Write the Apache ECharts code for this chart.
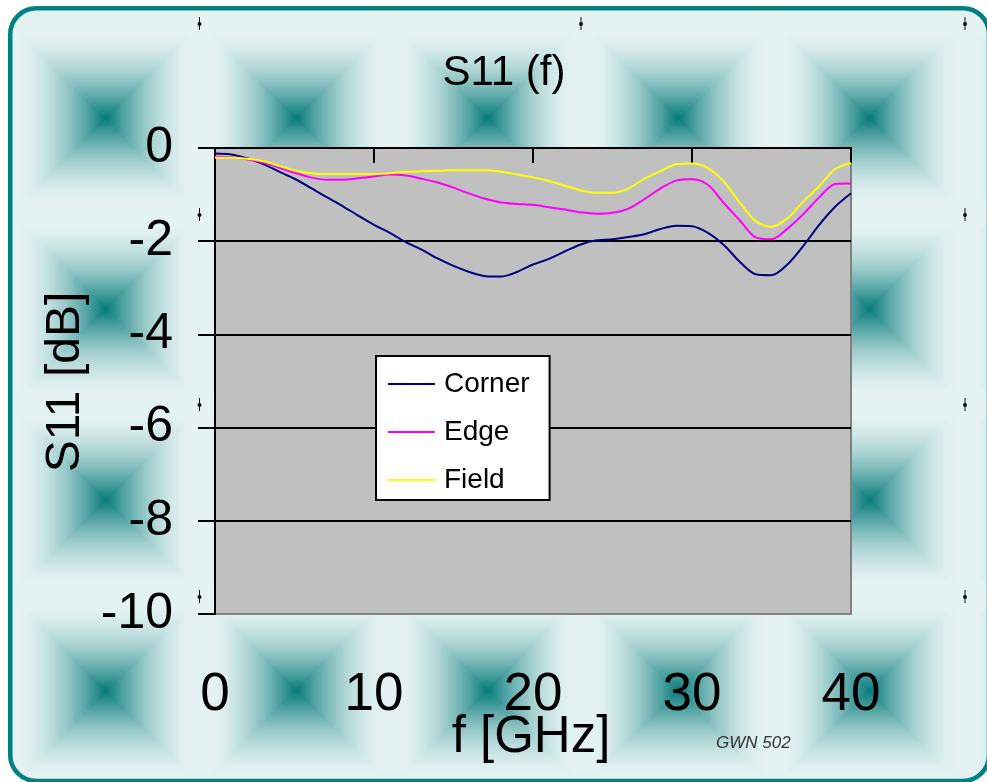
<!DOCTYPE html>
<html><head><meta charset="utf-8">
<script src="https://cdn.jsdelivr.net/npm/echarts@6/dist/echarts.min.js"></script>
<style>html,body{margin:0;padding:0;background:#fff}#c{width:987px;height:782px}</style>
</head><body><div id="c"></div>
<script>
// ---- data ----
const freqGHz = [0,1,2,3,4,5,6,7,8,9,10,11,12,13,14,15,16,17,18,19,20,21,22,23,24,25,26,27,28,29,30,31,32,33,34,35,36,37,38,39,40];
const corner = [-0.12,-0.14,-0.22,-0.34,-0.50,-0.66,-0.85,-1.05,-1.24,-1.45,-1.65,-1.82,-2.02,-2.18,-2.37,-2.53,-2.66,-2.75,-2.76,-2.66,-2.50,-2.38,-2.22,-2.07,-1.98,-1.96,-1.91,-1.85,-1.74,-1.67,-1.68,-1.82,-2.08,-2.44,-2.71,-2.73,-2.50,-2.10,-1.65,-1.26,-0.97];
const edge = [-0.19,-0.20,-0.24,-0.31,-0.42,-0.53,-0.63,-0.68,-0.68,-0.65,-0.61,-0.57,-0.59,-0.66,-0.74,-0.85,-0.98,-1.09,-1.17,-1.20,-1.22,-1.27,-1.32,-1.38,-1.41,-1.39,-1.30,-1.10,-0.87,-0.70,-0.67,-0.79,-1.18,-1.55,-1.92,-1.96,-1.73,-1.42,-1.06,-0.77,-0.76];
const field = [-0.21,-0.21,-0.23,-0.28,-0.38,-0.48,-0.54,-0.56,-0.56,-0.56,-0.56,-0.54,-0.51,-0.50,-0.49,-0.48,-0.48,-0.48,-0.51,-0.57,-0.63,-0.71,-0.81,-0.91,-0.96,-0.96,-0.87,-0.66,-0.50,-0.35,-0.33,-0.43,-0.72,-1.17,-1.57,-1.69,-1.51,-1.15,-0.82,-0.45,-0.32];
const seriesNames = ['Corner','Edge','Field'];
const xMin = 0, xMax = 40, xStep = 10;
const yMin = -10, yMax = 0, yStep = 2;
const titleText = 'S11 (f)';
const xTitle = 'f [GHz]';
const yTitle = 'S11 [dB]';
const footText = 'GWN 502';

// ---- decorative background (tiled rectangular gradient + frame) ----
function makeBackground(W, H) {
  const cv = document.createElement('canvas');
  cv.width = W; cv.height = H;
  const ctx = cv.getContext('2d');
  const img = ctx.createImageData(W, H);
  const T = 191, cx0 = 105.5, cy0 = 118, half = T / 2;
  const dark = [6, 122, 122], light = [228, 242, 242];
  for (let y = 0; y < H; y++) {
    let dy = ((y + 0.5 - cy0) % T + T) % T; if (dy > half) dy -= T;
    for (let x = 0; x < W; x++) {
      let dx = ((x + 0.5 - cx0) % T + T) % T; if (dx > half) dx -= T;
      const d = Math.max(Math.abs(dx), Math.abs(dy)) / half;
      const u = Math.max(0, 1 - d / 0.92);
      const f = Math.pow(u, 1.75);
      const i = (y * W + x) * 4;
      img.data[i] = light[0] + (dark[0] - light[0]) * f;
      img.data[i + 1] = light[1] + (dark[1] - light[1]) * f;
      img.data[i + 2] = light[2] + (dark[2] - light[2]) * f;
      img.data[i + 3] = 255;
    }
  }
  ctx.putImageData(img, 0, 0);
  function rr(x0, y0, x1, y1, r) {
    ctx.moveTo(x0 + r, y0); ctx.lineTo(x1 - r, y0); ctx.arcTo(x1, y0, x1, y0 + r, r);
    ctx.lineTo(x1, y1 - r); ctx.arcTo(x1, y1, x1 - r, y1, r);
    ctx.lineTo(x0 + r, y1); ctx.arcTo(x0, y1, x0, y1 - r, r);
    ctx.lineTo(x0, y0 + r); ctx.arcTo(x0, y0, x0 + r, y0, r); ctx.closePath();
  }
  ctx.beginPath(); ctx.rect(0, 0, W, H); rr(10.25, 8.25, 989, 781, 26);
  ctx.fillStyle = '#ffffff'; ctx.fill('evenodd');
  ctx.beginPath(); rr(10.25, 8.25, 989, 781, 26);
  ctx.lineWidth = 4.5; ctx.strokeStyle = '#008080'; ctx.stroke();
  return cv;
}
const bg = makeBackground(987, 782);

// small decorative marks of the background
const markPos = [[199.5,24],[581,24],[965,24],[199.5,215],[965,215],[199.5,405],[965,405],[199.5,597],[965,597]];
const markEls = [];
markPos.forEach(p => {
  markEls.push({type:'line', z:50, shape:{x1:p[0], y1:p[1]-7, x2:p[0], y2:p[1]+6}, style:{stroke:'#111', lineWidth:1}});
  markEls.push({type:'circle', z:50, shape:{cx:p[0], cy:p[1], r:2}, style:{fill:'#111'}});
});

const FONT = '"Liberation Sans", Arial, sans-serif';
const chart = echarts.init(document.getElementById('c'), null, {renderer:'canvas'});
const colors = ['#000080', '#ff00ff', '#ffff00'];
const allSeries = [corner, edge, field];

chart.setOption({
  animation: false,
  backgroundColor: '#ffffff',
  graphic: [
    {type:'image', z:-100, left:0, top:0, style:{image: bg, x:0, y:0, width:987, height:782}},
    ...markEls,
    {type:'text', z:100, x:504, y:73, style:{text:titleText, font:'42px ' + FONT, fill:'#000', textAlign:'center', textVerticalAlign:'middle'}},
    {type:'text', z:100, x:531, y:738, style:{text:xTitle, font:'51px ' + FONT, fill:'#000', textAlign:'center', textVerticalAlign:'middle'}},
    {type:'text', z:100, x:66, y:382, rotation:Math.PI/2, style:{text:yTitle, font:'48px ' + FONT, fill:'#000', textAlign:'center', textVerticalAlign:'middle'}},
    {type:'text', z:100, x:716, y:743, style:{text:footText, font:'italic 17px "Liberation Sans", sans-serif', fill:'#333', textAlign:'left', textVerticalAlign:'middle'}}
  ],
  grid: {left:215, top:148, width:636, height:466, show:true, backgroundColor:'#c0c0c0', borderColor:'#808080', borderWidth:2, containLabel:false},
  legend: {
    data: seriesNames, orient:'vertical', left:376, top:356, icon:'rect',
    backgroundColor:'#ffffff', borderColor:'#000', borderWidth:2, borderRadius:0,
    padding:[14, 20, 6, 12], itemWidth:47, itemHeight:2, itemGap:20,
    textStyle:{fontSize:28, fontFamily:FONT, color:'#000', padding:[0,0,0,4]}
  },
  xAxis: [
    {type:'value', position:'top', min:xMin, max:xMax, interval:xStep,
     axisLine:{show:true, onZero:false, lineStyle:{color:'#000', width:2}},
     axisTick:{show:true, inside:true, length:15, lineStyle:{color:'#000', width:2}},
     axisLabel:{show:false}, splitLine:{show:false}},
    {type:'value', position:'bottom', min:xMin, max:xMax, interval:xStep,
     axisLine:{show:false}, axisTick:{show:false}, splitLine:{show:false},
     axisLabel:{show:true, margin:55, fontSize:53, fontFamily:FONT, color:'#000'}}
  ],
  yAxis: {type:'value', min:yMin, max:yMax, interval:yStep,
    axisLine:{show:true, onZero:false, lineStyle:{color:'#000', width:2}},
    axisTick:{show:true, inside:false, length:17, lineStyle:{color:'#000', width:2}},
    axisLabel:{margin:42, fontSize:50, fontFamily:FONT, color:'#000'},
    splitLine:{show:true, showMinLine:false, showMaxLine:false, lineStyle:{color:'#000', width:2}}},
  series: allSeries.map((vals, k) => ({
    name: seriesNames[k], type:'line', xAxisIndex:0, symbol:'none', showSymbol:false, smooth:0.3,
    lineStyle:{color:colors[k], width:2}, itemStyle:{color:colors[k]},
    data: freqGHz.map((f, i) => [f, vals[i]])
  }))
});
</script></body></html>
